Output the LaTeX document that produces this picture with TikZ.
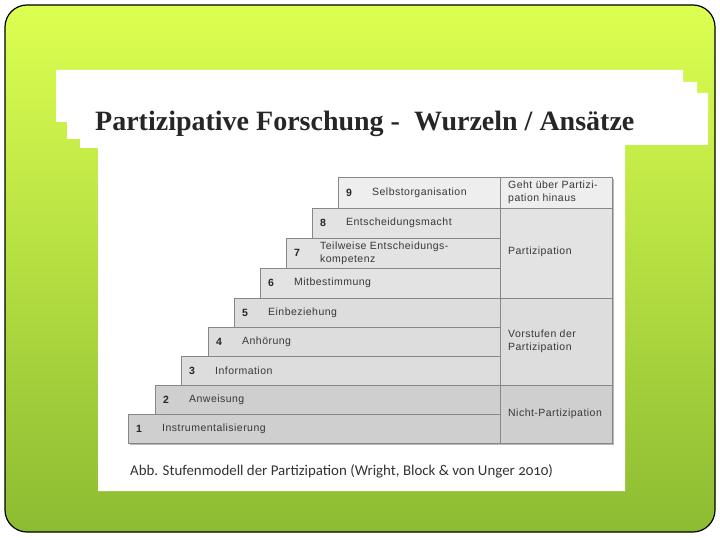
\documentclass[tikz,border=0pt]{standalone}
\usepackage{fontspec}
\setmainfont{Liberation Serif}
\newfontfamily\tabfont{Liberation Sans}[LetterSpace=4.5]
\newfontfamily\capfont{Carlito}[Numbers=OldStyle]
\definecolor{gtop}{RGB}{220,255,80}
\definecolor{gbot}{RGB}{140,188,50}
\definecolor{tline}{RGB}{135,135,135}
\definecolor{tshadow}{RGB}{185,185,185}
\definecolor{c9}{RGB}{238,238,238}
\definecolor{c8}{RGB}{227,227,227}
\definecolor{c5}{RGB}{221,221,221}
\definecolor{c2}{RGB}{207,207,207}
\definecolor{ttext}{RGB}{55,55,55}
\begin{document}
\begin{tikzpicture}[x=1pt,y=-1pt,
  cell/.style={draw=tline, line width=0.6pt, inner sep=0pt, outer sep=0pt, anchor=north west},
  num/.style={font=\tabfont\fontsize{10.5}{12}\selectfont\bfseries, text=black!85, inner sep=0pt},
  lbl/.style={font=\tabfont\fontsize{10.5}{13}\selectfont, text=ttext, inner sep=0pt, anchor=west, align=left},
]
\useasboundingbox (0,0) rectangle (720,540);
% green frame
\path[draw=black, line width=1.2pt, top color=gtop, bottom color=gbot, rounded corners=22pt]
  (5,5) rectangle (715,532);
% white title / figure area
\fill[white] (56,70) -- (683,70) -- (683,82) -- (697,82) -- (697,93) -- (708,93) -- (708,145)
  -- (625,145) -- (625,491) -- (98,491) -- (98,148) -- (80,148) -- (80,139) -- (67,139)
  -- (67,122) -- (56,122) -- cycle;
\node[anchor=base west, inner sep=0pt, font=\fontsize{28}{30}\selectfont\bfseries, text=black!85]
  (title) at (95,131) {Partizipative Forschung -\ \ Wurzeln / Ansätze};
% shadow of table
\fill[tshadow] (130,416) rectangle (614,445);
\fill[tshadow] (502,179) rectangle (614,445);
% rows
\foreach \n/\lx/\ty/\by/\col/\txt in {
  9/338/177/208/c9/Selbstorganisation,
  8/312/208/238/c8/Entscheidungsmacht,
  7/286/238/268/c8/{Teilweise Entscheidungs-\\kompetenz},
  6/260/268/298/c8/Mitbestimmung,
  5/234/298/327/c5/Einbeziehung,
  4/208/327/356/c5/Anhörung,
  3/181/356/385/c5/Information,
  2/155/385/414/c2/Anweisung,
  1/128/414/443/c2/Instrumentalisierung}{
  \pgfmathsetmacro{\w}{500-\lx}
  \pgfmathsetmacro{\h}{\by-\ty}
  \pgfmathsetmacro{\cy}{(\ty+\by)/2}
  \node[cell, fill=\col, minimum width=\w pt, minimum height=\h pt] (r\n) at (\lx,\ty) {};
  \node[num] (n\n) at (\lx+11,\cy) {\n};
  \node[lbl] (l\n) at (\lx+34,\cy) {\txt};
}
% right column
\node[cell, fill=c9, minimum width=112pt, minimum height=31pt] (g1) at (500,177) {};
\node[lbl] (g1t) at (508,192.5) {Geht über Partizi-\\pation hinaus};
\node[cell, fill=c8, minimum width=112pt, minimum height=90pt] (g2) at (500,208) {};
\node[lbl] (g2t) at (508,252) {Partizipation};
\node[cell, fill=c5, minimum width=112pt, minimum height=87pt] (g3) at (500,298) {};
\node[lbl] (g3t) at (508,341) {Vorstufen der\\Partizipation};
\node[cell, fill=c2, minimum width=112pt, minimum height=58pt] (g4) at (500,385) {};
\node[lbl] (g4t) at (508,414) {Nicht-Partizipation};
% caption
\node[anchor=base west, inner sep=0pt, font=\capfont\fontsize{14.9}{16}\selectfont, text=black!80]
  (cap) at (130,475) {Abb. Stufenmodell der Partizipation (Wright, Block \& von Unger 2010)};
\end{tikzpicture}
\end{document}
